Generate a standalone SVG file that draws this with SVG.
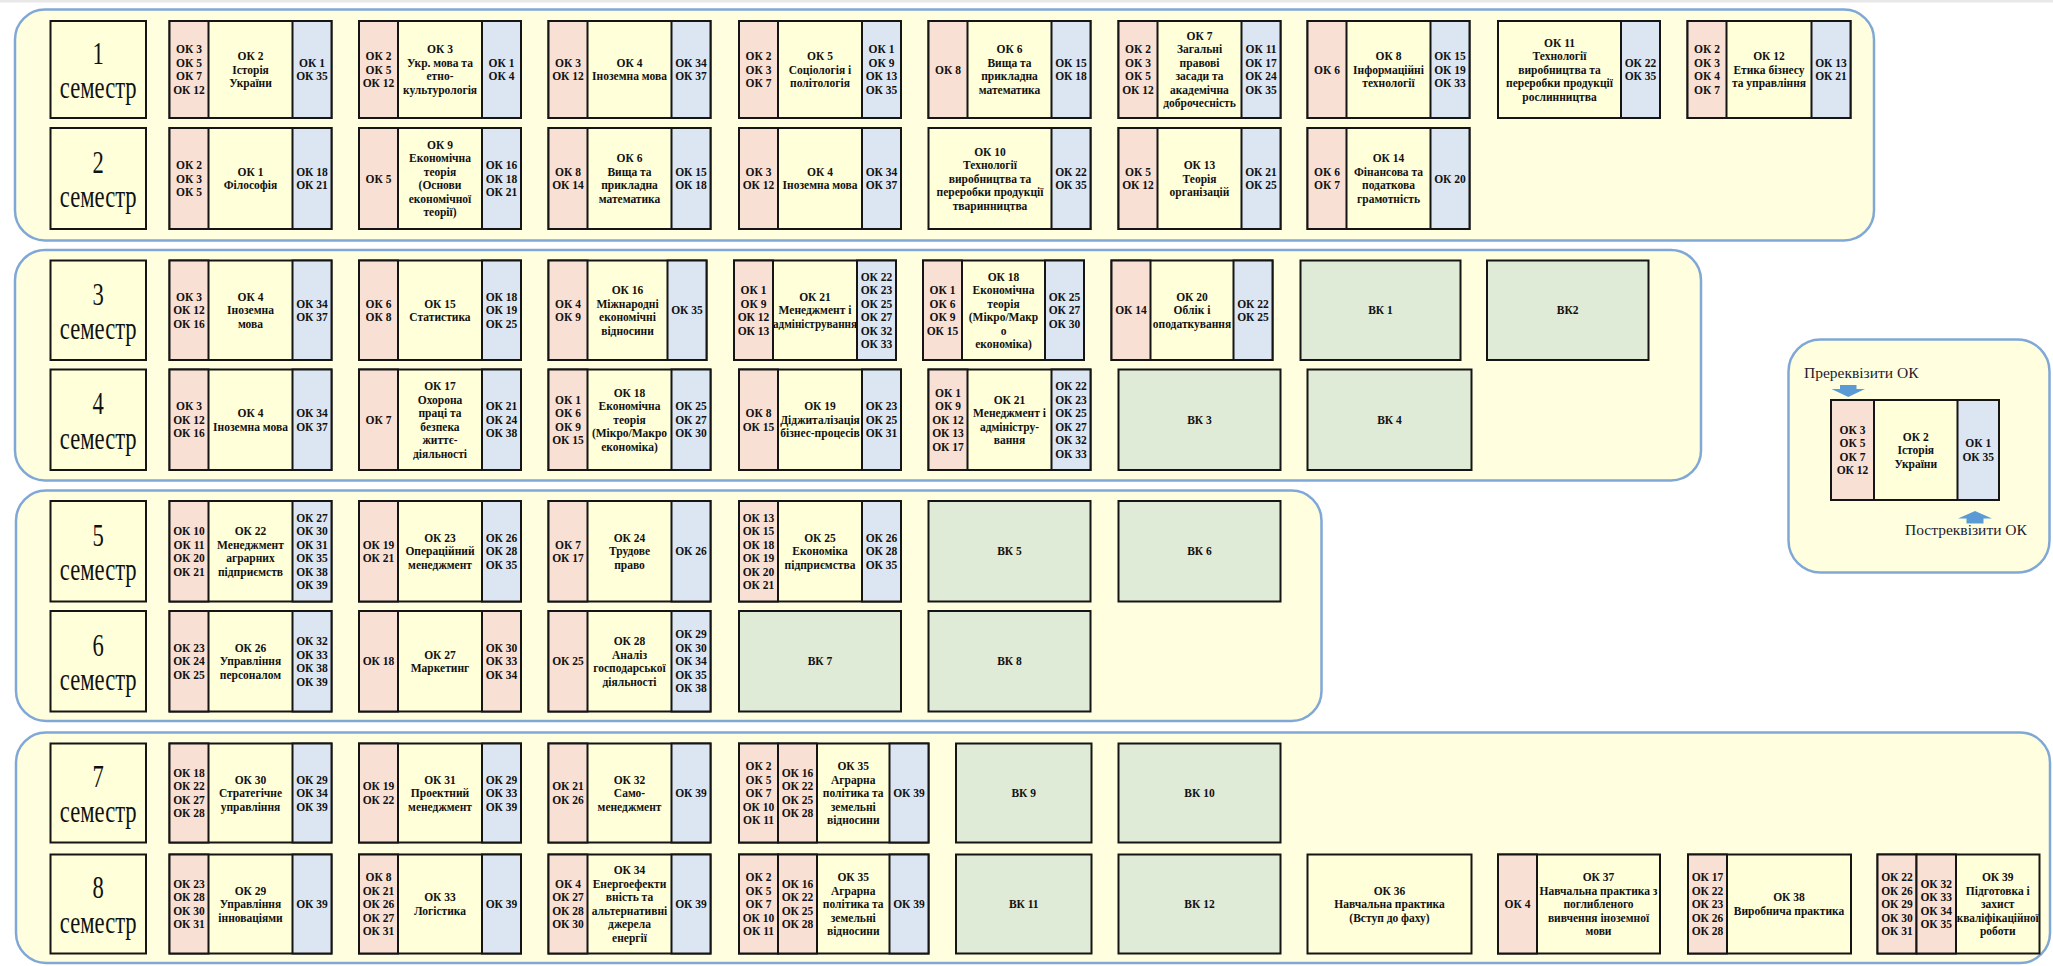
<svg xmlns="http://www.w3.org/2000/svg" width="2053" height="966" viewBox="0 0 2053 966">
<style>
.band{fill:#FFFFDF;stroke:#80A8D6;stroke-width:2.5}
.y{fill:#FFFFDA;stroke:#151515;stroke-width:2}
.r{fill:#F9E0D4;stroke:#151515;stroke-width:2}
.b{fill:#DCE6F2;stroke:#151515;stroke-width:2}
.g{fill:#E0EBD7;stroke:#151515;stroke-width:2}
.t{font-family:"Liberation Serif","Times New Roman",serif;font-weight:bold;font-size:11.5px;fill:#111;text-anchor:middle}
.sem{font-family:"Liberation Serif","Times New Roman",serif;font-size:31px;fill:#111;text-anchor:middle}
.lg{font-family:"Liberation Serif","Times New Roman",serif;font-size:15.5px;fill:#1b1b30}
.arr{fill:#5B9BD5}
</style>
<rect x="0" y="0" width="2053" height="966" fill="#ffffff"/>
<rect x="0" y="0" width="2053" height="2.5" fill="#e8e8e8"/>

<g id="bands">
<rect class="band" x="15" y="9.5" width="1859" height="231" rx="30"/>
<rect class="band" x="15" y="250" width="1686" height="230.5" rx="30"/>
<rect class="band" x="16" y="490.5" width="1305.5" height="230.5" rx="30"/>
<rect class="band" x="16" y="732.5" width="2034" height="230.5" rx="30"/>
</g>

<!-- semester labels -->
<g id="sem1"><rect class="y" x="50.5" y="21" width="95.5" height="97"/>
<text class="sem" transform="translate(98.25,0) scale(0.73,1)"><tspan x="0" y="64">1</tspan><tspan x="0" y="98.5">семестр</tspan></text></g>
<g id="sem2"><rect class="y" x="50.5" y="128" width="95.5" height="101"/>
<text class="sem" transform="translate(98.25,0) scale(0.73,1)"><tspan x="0" y="173">2</tspan><tspan x="0" y="207.5">семестр</tspan></text></g>
<g id="sem3"><rect class="y" x="50.5" y="260.5" width="95.5" height="99.5"/>
<text class="sem" transform="translate(98.25,0) scale(0.73,1)"><tspan x="0" y="304.75">3</tspan><tspan x="0" y="339.25">семестр</tspan></text></g>
<g id="sem4"><rect class="y" x="50.5" y="369.5" width="95.5" height="100.5"/>
<text class="sem" transform="translate(98.25,0) scale(0.73,1)"><tspan x="0" y="414.25">4</tspan><tspan x="0" y="448.75">семестр</tspan></text></g>
<g id="sem5"><rect class="y" x="50.5" y="501" width="95.5" height="100.5"/>
<text class="sem" transform="translate(98.25,0) scale(0.73,1)"><tspan x="0" y="545.75">5</tspan><tspan x="0" y="580.25">семестр</tspan></text></g>
<g id="sem6"><rect class="y" x="50.5" y="611" width="95.5" height="100.5"/>
<text class="sem" transform="translate(98.25,0) scale(0.73,1)"><tspan x="0" y="655.75">6</tspan><tspan x="0" y="690.25">семестр</tspan></text></g>
<g id="sem7"><rect class="y" x="50.5" y="743.5" width="95.5" height="99"/>
<text class="sem" transform="translate(98.25,0) scale(0.73,1)"><tspan x="0" y="787.5">7</tspan><tspan x="0" y="822">семестр</tspan></text></g>
<g id="sem8"><rect class="y" x="50.5" y="854.5" width="95.5" height="99"/>
<text class="sem" transform="translate(98.25,0) scale(0.73,1)"><tspan x="0" y="898.5">8</tspan><tspan x="0" y="933">семестр</tspan></text></g>

<!-- ===== Semester 1 ===== -->
<g id="s1-ok2"><rect class="y" x="169.5" y="21" width="162" height="97"/><rect class="r" x="169.5" y="21" width="39" height="97"/><rect class="b" x="292.5" y="21" width="39" height="97"/>
<text class="t" y="53.25"><tspan x="189">ОК 3</tspan><tspan x="189" dy="13.5">ОК 5</tspan><tspan x="189" dy="13.5">ОК 7</tspan><tspan x="189" dy="13.5">ОК 12</tspan></text>
<text class="t" y="60"><tspan x="250.5">ОК 2</tspan><tspan x="250.5" dy="13.5">Історія</tspan><tspan x="250.5" dy="13.5">України</tspan></text>
<text class="t" y="66.75"><tspan x="312">ОК 1</tspan><tspan x="312" dy="13.5">ОК 35</tspan></text></g>

<g id="s1-ok3"><rect class="y" x="359" y="21" width="162" height="97"/><rect class="r" x="359" y="21" width="39" height="97"/><rect class="b" x="482" y="21" width="39" height="97"/>
<text class="t" y="60"><tspan x="378.5">ОК 2</tspan><tspan x="378.5" dy="13.5">ОК 5</tspan><tspan x="378.5" dy="13.5">ОК 12</tspan></text>
<text class="t" y="53.25"><tspan x="440">ОК 3</tspan><tspan x="440" dy="13.5">Укр. мова та</tspan><tspan x="440" dy="13.5">етно-</tspan><tspan x="440" dy="13.5">культурологія</tspan></text>
<text class="t" y="66.75"><tspan x="501.5">ОК 1</tspan><tspan x="501.5" dy="13.5">ОК 4</tspan></text></g>

<g id="s1-ok4"><rect class="y" x="548.5" y="21" width="162" height="97"/><rect class="r" x="548.5" y="21" width="39" height="97"/><rect class="b" x="671.5" y="21" width="39" height="97"/>
<text class="t" y="66.75"><tspan x="568">ОК 3</tspan><tspan x="568" dy="13.5">ОК 12</tspan></text>
<text class="t" y="66.75"><tspan x="629.5">ОК 4</tspan><tspan x="629.5" dy="13.5">Іноземна мова</tspan></text>
<text class="t" y="66.75"><tspan x="691">ОК 34</tspan><tspan x="691" dy="13.5">ОК 37</tspan></text></g>

<g id="s1-ok5"><rect class="y" x="739" y="21" width="162" height="97"/><rect class="r" x="739" y="21" width="39" height="97"/><rect class="b" x="862" y="21" width="39" height="97"/>
<text class="t" y="60"><tspan x="758.5">ОК 2</tspan><tspan x="758.5" dy="13.5">ОК 3</tspan><tspan x="758.5" dy="13.5">ОК 7</tspan></text>
<text class="t" y="60"><tspan x="820">ОК 5</tspan><tspan x="820" dy="13.5">Соціологія і</tspan><tspan x="820" dy="13.5">політологія</tspan></text>
<text class="t" y="53.25"><tspan x="881.5">ОК 1</tspan><tspan x="881.5" dy="13.5">ОК 9</tspan><tspan x="881.5" dy="13.5">ОК 13</tspan><tspan x="881.5" dy="13.5">ОК 35</tspan></text></g>

<g id="s1-ok6"><rect class="y" x="928.5" y="21" width="162" height="97"/><rect class="r" x="928.5" y="21" width="39" height="97"/><rect class="b" x="1051.5" y="21" width="39" height="97"/>
<text class="t" y="73.5"><tspan x="948">ОК 8</tspan></text>
<text class="t" y="53.25"><tspan x="1009.5">ОК 6</tspan><tspan x="1009.5" dy="13.5">Вища та</tspan><tspan x="1009.5" dy="13.5">прикладна</tspan><tspan x="1009.5" dy="13.5">математика</tspan></text>
<text class="t" y="66.75"><tspan x="1071">ОК 15</tspan><tspan x="1071" dy="13.5">ОК 18</tspan></text></g>

<g id="s1-ok7"><rect class="y" x="1118.5" y="21" width="162" height="97"/><rect class="r" x="1118.5" y="21" width="39" height="97"/><rect class="b" x="1241.5" y="21" width="39" height="97"/>
<text class="t" y="53.25"><tspan x="1138">ОК 2</tspan><tspan x="1138" dy="13.5">ОК 3</tspan><tspan x="1138" dy="13.5">ОК 5</tspan><tspan x="1138" dy="13.5">ОК 12</tspan></text>
<text class="t" y="39.75"><tspan x="1199.5">ОК 7</tspan><tspan x="1199.5" dy="13.5">Загальні</tspan><tspan x="1199.5" dy="13.5">правові</tspan><tspan x="1199.5" dy="13.5">засади та</tspan><tspan x="1199.5" dy="13.5">академічна</tspan><tspan x="1199.5" dy="13.5">доброчесність</tspan></text>
<text class="t" y="53.25"><tspan x="1261">ОК 11</tspan><tspan x="1261" dy="13.5">ОК 17</tspan><tspan x="1261" dy="13.5">ОК 24</tspan><tspan x="1261" dy="13.5">ОК 35</tspan></text></g>

<g id="s1-ok8"><rect class="y" x="1307.5" y="21" width="162" height="97"/><rect class="r" x="1307.5" y="21" width="39" height="97"/><rect class="b" x="1430.5" y="21" width="39" height="97"/>
<text class="t" y="73.5"><tspan x="1327">ОК 6</tspan></text>
<text class="t" y="60"><tspan x="1388.5">ОК 8</tspan><tspan x="1388.5" dy="13.5">Інформаційні</tspan><tspan x="1388.5" dy="13.5">технології</tspan></text>
<text class="t" y="60"><tspan x="1450">ОК 15</tspan><tspan x="1450" dy="13.5">ОК 19</tspan><tspan x="1450" dy="13.5">ОК 33</tspan></text></g>

<g id="s1-ok11"><rect class="y" x="1498" y="21" width="162" height="97"/><rect class="b" x="1621" y="21" width="39" height="97"/>
<text class="t" y="46.5"><tspan x="1559.5">ОК 11</tspan><tspan x="1559.5" dy="13.5">Технології</tspan><tspan x="1559.5" dy="13.5">виробництва та</tspan><tspan x="1559.5" dy="13.5">переробки продукції</tspan><tspan x="1559.5" dy="13.5">рослинництва</tspan></text>
<text class="t" y="66.75"><tspan x="1640.5">ОК 22</tspan><tspan x="1640.5" dy="13.5">ОК 35</tspan></text></g>

<g id="s1-ok12"><rect class="y" x="1687.5" y="21" width="163" height="97"/><rect class="r" x="1687.5" y="21" width="39" height="97"/><rect class="b" x="1811.5" y="21" width="39" height="97"/>
<text class="t" y="53.25"><tspan x="1707">ОК 2</tspan><tspan x="1707" dy="13.5">ОК 3</tspan><tspan x="1707" dy="13.5">ОК 4</tspan><tspan x="1707" dy="13.5">ОК 7</tspan></text>
<text class="t" y="60"><tspan x="1769">ОК 12</tspan><tspan x="1769" dy="13.5">Етика бізнесу</tspan><tspan x="1769" dy="13.5">та управління</tspan></text>
<text class="t" y="66.75"><tspan x="1831">ОК 13</tspan><tspan x="1831" dy="13.5">ОК 21</tspan></text></g>

<!-- ===== Semester 2 ===== -->
<g id="s2-ok1"><rect class="y" x="169.5" y="128" width="162" height="101"/><rect class="r" x="169.5" y="128" width="39" height="101"/><rect class="b" x="292.5" y="128" width="39" height="101"/>
<text class="t" y="169"><tspan x="189">ОК 2</tspan><tspan x="189" dy="13.5">ОК 3</tspan><tspan x="189" dy="13.5">ОК 5</tspan></text>
<text class="t" y="175.75"><tspan x="250.5">ОК 1</tspan><tspan x="250.5" dy="13.5">Філософія</tspan></text>
<text class="t" y="175.75"><tspan x="312">ОК 18</tspan><tspan x="312" dy="13.5">ОК 21</tspan></text></g>

<g id="s2-ok9"><rect class="y" x="359" y="128" width="162" height="101"/><rect class="r" x="359" y="128" width="39" height="101"/><rect class="b" x="482" y="128" width="39" height="101"/>
<text class="t" y="182.5"><tspan x="378.5">ОК 5</tspan></text>
<text class="t" y="148.75"><tspan x="440">ОК 9</tspan><tspan x="440" dy="13.5">Економічна</tspan><tspan x="440" dy="13.5">теорія</tspan><tspan x="440" dy="13.5">(Основи</tspan><tspan x="440" dy="13.5">економічної</tspan><tspan x="440" dy="13.5">теорії)</tspan></text>
<text class="t" y="169"><tspan x="501.5">ОК 16</tspan><tspan x="501.5" dy="13.5">ОК 18</tspan><tspan x="501.5" dy="13.5">ОК 21</tspan></text></g>

<g id="s2-ok6"><rect class="y" x="548.5" y="128" width="162" height="101"/><rect class="r" x="548.5" y="128" width="39" height="101"/><rect class="b" x="671.5" y="128" width="39" height="101"/>
<text class="t" y="175.75"><tspan x="568">ОК 8</tspan><tspan x="568" dy="13.5">ОК 14</tspan></text>
<text class="t" y="162.25"><tspan x="629.5">ОК 6</tspan><tspan x="629.5" dy="13.5">Вища та</tspan><tspan x="629.5" dy="13.5">прикладна</tspan><tspan x="629.5" dy="13.5">математика</tspan></text>
<text class="t" y="175.75"><tspan x="691">ОК 15</tspan><tspan x="691" dy="13.5">ОК 18</tspan></text></g>

<g id="s2-ok4"><rect class="y" x="739" y="128" width="162" height="101"/><rect class="r" x="739" y="128" width="39" height="101"/><rect class="b" x="862" y="128" width="39" height="101"/>
<text class="t" y="175.75"><tspan x="758.5">ОК 3</tspan><tspan x="758.5" dy="13.5">ОК 12</tspan></text>
<text class="t" y="175.75"><tspan x="820">ОК 4</tspan><tspan x="820" dy="13.5">Іноземна мова</tspan></text>
<text class="t" y="175.75"><tspan x="881.5">ОК 34</tspan><tspan x="881.5" dy="13.5">ОК 37</tspan></text></g>

<g id="s2-ok10"><rect class="y" x="928.5" y="128" width="162" height="101"/><rect class="b" x="1051.5" y="128" width="39" height="101"/>
<text class="t" y="155.5"><tspan x="990">ОК 10</tspan><tspan x="990" dy="13.5">Технології</tspan><tspan x="990" dy="13.5">виробництва та</tspan><tspan x="990" dy="13.5">переробки продукції</tspan><tspan x="990" dy="13.5">тваринництва</tspan></text>
<text class="t" y="175.75"><tspan x="1071">ОК 22</tspan><tspan x="1071" dy="13.5">ОК 35</tspan></text></g>

<g id="s2-ok13"><rect class="y" x="1118.5" y="128" width="162" height="101"/><rect class="r" x="1118.5" y="128" width="39" height="101"/><rect class="b" x="1241.5" y="128" width="39" height="101"/>
<text class="t" y="175.75"><tspan x="1138">ОК 5</tspan><tspan x="1138" dy="13.5">ОК 12</tspan></text>
<text class="t" y="169"><tspan x="1199.5">ОК 13</tspan><tspan x="1199.5" dy="13.5">Теорія</tspan><tspan x="1199.5" dy="13.5">організацій</tspan></text>
<text class="t" y="175.75"><tspan x="1261">ОК 21</tspan><tspan x="1261" dy="13.5">ОК 25</tspan></text></g>

<g id="s2-ok14"><rect class="y" x="1307.5" y="128" width="162" height="101"/><rect class="r" x="1307.5" y="128" width="39" height="101"/><rect class="b" x="1430.5" y="128" width="39" height="101"/>
<text class="t" y="175.75"><tspan x="1327">ОК 6</tspan><tspan x="1327" dy="13.5">ОК 7</tspan></text>
<text class="t" y="162.25"><tspan x="1388.5">ОК 14</tspan><tspan x="1388.5" dy="13.5">Фінансова та</tspan><tspan x="1388.5" dy="13.5">податкова</tspan><tspan x="1388.5" dy="13.5">грамотність</tspan></text>
<text class="t" y="182.5"><tspan x="1450">ОК 20</tspan></text></g>

<!-- ===== Semester 3 ===== -->
<g id="s3-ok4"><rect class="y" x="169.5" y="260.5" width="162" height="99.5"/><rect class="r" x="169.5" y="260.5" width="39" height="99.5"/><rect class="b" x="292.5" y="260.5" width="39" height="99.5"/>
<text class="t" y="300.75"><tspan x="189">ОК 3</tspan><tspan x="189" dy="13.5">ОК 12</tspan><tspan x="189" dy="13.5">ОК 16</tspan></text>
<text class="t" y="300.75"><tspan x="250.5">ОК 4</tspan><tspan x="250.5" dy="13.5">Іноземна</tspan><tspan x="250.5" dy="13.5">мова</tspan></text>
<text class="t" y="307.5"><tspan x="312">ОК 34</tspan><tspan x="312" dy="13.5">ОК 37</tspan></text></g>

<g id="s3-ok15"><rect class="y" x="359" y="260.5" width="162" height="99.5"/><rect class="r" x="359" y="260.5" width="39" height="99.5"/><rect class="b" x="482" y="260.5" width="39" height="99.5"/>
<text class="t" y="307.5"><tspan x="378.5">ОК 6</tspan><tspan x="378.5" dy="13.5">ОК 8</tspan></text>
<text class="t" y="307.5"><tspan x="440">ОК 15</tspan><tspan x="440" dy="13.5">Статистика</tspan></text>
<text class="t" y="300.75"><tspan x="501.5">ОК 18</tspan><tspan x="501.5" dy="13.5">ОК 19</tspan><tspan x="501.5" dy="13.5">ОК 25</tspan></text></g>

<g id="s3-ok16"><rect class="y" x="548.5" y="260.5" width="158" height="99.5"/><rect class="r" x="548.5" y="260.5" width="39" height="99.5"/><rect class="b" x="667.5" y="260.5" width="39" height="99.5"/>
<text class="t" y="307.5"><tspan x="568">ОК 4</tspan><tspan x="568" dy="13.5">ОК 9</tspan></text>
<text class="t" y="294"><tspan x="627.5">ОК 16</tspan><tspan x="627.5" dy="13.5">Міжнародні</tspan><tspan x="627.5" dy="13.5">економічні</tspan><tspan x="627.5" dy="13.5">відносини</tspan></text>
<text class="t" y="314.25"><tspan x="687">ОК 35</tspan></text></g>

<g id="s3-ok21"><rect class="y" x="734" y="260.5" width="162" height="99.5"/><rect class="r" x="734" y="260.5" width="39" height="99.5"/><rect class="b" x="857" y="260.5" width="39" height="99.5"/>
<text class="t" y="294"><tspan x="753.5">ОК 1</tspan><tspan x="753.5" dy="13.5">ОК 9</tspan><tspan x="753.5" dy="13.5">ОК 12</tspan><tspan x="753.5" dy="13.5">ОК 13</tspan></text>
<text class="t" y="300.75"><tspan x="815">ОК 21</tspan><tspan x="815" dy="13.5">Менеджмент і</tspan><tspan x="815" dy="13.5" textLength="84" lengthAdjust="spacingAndGlyphs">адміністрування</tspan></text>
<text class="t" y="280.5"><tspan x="876.5">ОК 22</tspan><tspan x="876.5" dy="13.5">ОК 23</tspan><tspan x="876.5" dy="13.5">ОК 25</tspan><tspan x="876.5" dy="13.5">ОК 27</tspan><tspan x="876.5" dy="13.5">ОК 32</tspan><tspan x="876.5" dy="13.5">ОК 33</tspan></text></g>

<g id="s3-ok18"><rect class="y" x="923" y="260.5" width="161" height="99.5"/><rect class="r" x="923" y="260.5" width="39" height="99.5"/><rect class="b" x="1045" y="260.5" width="39" height="99.5"/>
<text class="t" y="294"><tspan x="942.5">ОК 1</tspan><tspan x="942.5" dy="13.5">ОК 6</tspan><tspan x="942.5" dy="13.5">ОК 9</tspan><tspan x="942.5" dy="13.5">ОК 15</tspan></text>
<text class="t" y="280.5"><tspan x="1003.5">ОК 18</tspan><tspan x="1003.5" dy="13.5">Економічна</tspan><tspan x="1003.5" dy="13.5">теорія</tspan><tspan x="1003.5" dy="13.5">(Мікро/Макр</tspan><tspan x="1003.5" dy="13.5">о</tspan><tspan x="1003.5" dy="13.5">економіка)</tspan></text>
<text class="t" y="300.75"><tspan x="1064.5">ОК 25</tspan><tspan x="1064.5" dy="13.5">ОК 27</tspan><tspan x="1064.5" dy="13.5">ОК 30</tspan></text></g>

<g id="s3-ok20"><rect class="y" x="1111.5" y="260.5" width="161" height="99.5"/><rect class="r" x="1111.5" y="260.5" width="39" height="99.5"/><rect class="b" x="1233.5" y="260.5" width="39" height="99.5"/>
<text class="t" y="314.25"><tspan x="1131">ОК 14</tspan></text>
<text class="t" y="300.75"><tspan x="1192">ОК 20</tspan><tspan x="1192" dy="13.5">Облік і</tspan><tspan x="1192" dy="13.5">оподаткування</tspan></text>
<text class="t" y="307.5"><tspan x="1253">ОК 22</tspan><tspan x="1253" dy="13.5">ОК 25</tspan></text></g>

<g id="s3-vk1"><rect class="g" x="1300.5" y="260.5" width="160" height="99.5"/><text class="t" x="1380.5" y="314.25">ВК 1</text></g>
<g id="s3-vk2"><rect class="g" x="1487" y="260.5" width="161.5" height="99.5"/><text class="t" x="1567.75" y="314.25">ВК2</text></g>

<!-- ===== Semester 4 ===== -->
<g id="s4-ok4"><rect class="y" x="169.5" y="369.5" width="162" height="100.5"/><rect class="r" x="169.5" y="369.5" width="39" height="100.5"/><rect class="b" x="292.5" y="369.5" width="39" height="100.5"/>
<text class="t" y="410.25"><tspan x="189">ОК 3</tspan><tspan x="189" dy="13.5">ОК 12</tspan><tspan x="189" dy="13.5">ОК 16</tspan></text>
<text class="t" y="417"><tspan x="250.5">ОК 4</tspan><tspan x="250.5" dy="13.5">Іноземна мова</tspan></text>
<text class="t" y="417"><tspan x="312">ОК 34</tspan><tspan x="312" dy="13.5">ОК 37</tspan></text></g>

<g id="s4-ok17"><rect class="y" x="359" y="369.5" width="162" height="100.5"/><rect class="r" x="359" y="369.5" width="39" height="100.5"/><rect class="b" x="482" y="369.5" width="39" height="100.5"/>
<text class="t" y="423.75"><tspan x="378.5">ОК 7</tspan></text>
<text class="t" y="390"><tspan x="440">ОК 17</tspan><tspan x="440" dy="13.5">Охорона</tspan><tspan x="440" dy="13.5">праці та</tspan><tspan x="440" dy="13.5">безпека</tspan><tspan x="440" dy="13.5">життє-</tspan><tspan x="440" dy="13.5">діяльності</tspan></text>
<text class="t" y="410.25"><tspan x="501.5">ОК 21</tspan><tspan x="501.5" dy="13.5">ОК 24</tspan><tspan x="501.5" dy="13.5">ОК 38</tspan></text></g>

<g id="s4-ok18"><rect class="y" x="548.5" y="369.5" width="162" height="100.5"/><rect class="r" x="548.5" y="369.5" width="39" height="100.5"/><rect class="b" x="671.5" y="369.5" width="39" height="100.5"/>
<text class="t" y="403.5"><tspan x="568">ОК 1</tspan><tspan x="568" dy="13.5">ОК 6</tspan><tspan x="568" dy="13.5">ОК 9</tspan><tspan x="568" dy="13.5">ОК 15</tspan></text>
<text class="t" y="396.75"><tspan x="629.5">ОК 18</tspan><tspan x="629.5" dy="13.5">Економічна</tspan><tspan x="629.5" dy="13.5">теорія</tspan><tspan x="629.5" dy="13.5">(Мікро/Макро</tspan><tspan x="629.5" dy="13.5">економіка)</tspan></text>
<text class="t" y="410.25"><tspan x="691">ОК 25</tspan><tspan x="691" dy="13.5">ОК 27</tspan><tspan x="691" dy="13.5">ОК 30</tspan></text></g>

<g id="s4-ok19"><rect class="y" x="739" y="369.5" width="162" height="100.5"/><rect class="r" x="739" y="369.5" width="39" height="100.5"/><rect class="b" x="862" y="369.5" width="39" height="100.5"/>
<text class="t" y="417"><tspan x="758.5">ОК 8</tspan><tspan x="758.5" dy="13.5">ОК 15</tspan></text>
<text class="t" y="410.25"><tspan x="820">ОК 19</tspan><tspan x="820" dy="13.5">Діджиталізація</tspan><tspan x="820" dy="13.5">бізнес-процесів</tspan></text>
<text class="t" y="410.25"><tspan x="881.5">ОК 23</tspan><tspan x="881.5" dy="13.5">ОК 25</tspan><tspan x="881.5" dy="13.5">ОК 31</tspan></text></g>

<g id="s4-ok21"><rect class="y" x="928.5" y="369.5" width="162" height="100.5"/><rect class="r" x="928.5" y="369.5" width="39" height="100.5"/><rect class="b" x="1051.5" y="369.5" width="39" height="100.5"/>
<text class="t" y="396.75"><tspan x="948">ОК 1</tspan><tspan x="948" dy="13.5">ОК 9</tspan><tspan x="948" dy="13.5">ОК 12</tspan><tspan x="948" dy="13.5">ОК 13</tspan><tspan x="948" dy="13.5">ОК 17</tspan></text>
<text class="t" y="403.5"><tspan x="1009.5">ОК 21</tspan><tspan x="1009.5" dy="13.5">Менеджмент і</tspan><tspan x="1009.5" dy="13.5">адміністру-</tspan><tspan x="1009.5" dy="13.5">вання</tspan></text>
<text class="t" y="390"><tspan x="1071">ОК 22</tspan><tspan x="1071" dy="13.5">ОК 23</tspan><tspan x="1071" dy="13.5">ОК 25</tspan><tspan x="1071" dy="13.5">ОК 27</tspan><tspan x="1071" dy="13.5">ОК 32</tspan><tspan x="1071" dy="13.5">ОК 33</tspan></text></g>

<g id="s4-vk3"><rect class="g" x="1118.5" y="369.5" width="162" height="100.5"/><text class="t" x="1199.5" y="423.75">ВК 3</text></g>
<g id="s4-vk4"><rect class="g" x="1307.5" y="369.5" width="164" height="100.5"/><text class="t" x="1389.5" y="423.75">ВК 4</text></g>

<!-- ===== Semester 5 ===== -->
<g id="s5-ok22"><rect class="y" x="169.5" y="501" width="162" height="100.5"/><rect class="r" x="169.5" y="501" width="39" height="100.5"/><rect class="b" x="292.5" y="501" width="39" height="100.5"/>
<text class="t" y="535"><tspan x="189">ОК 10</tspan><tspan x="189" dy="13.5">ОК 11</tspan><tspan x="189" dy="13.5">ОК 20</tspan><tspan x="189" dy="13.5">ОК 21</tspan></text>
<text class="t" y="535"><tspan x="250.5">ОК 22</tspan><tspan x="250.5" dy="13.5">Менеджмент</tspan><tspan x="250.5" dy="13.5">аграрних</tspan><tspan x="250.5" dy="13.5">підприємств</tspan></text>
<text class="t" y="521.5"><tspan x="312">ОК 27</tspan><tspan x="312" dy="13.5">ОК 30</tspan><tspan x="312" dy="13.5">ОК 31</tspan><tspan x="312" dy="13.5">ОК 35</tspan><tspan x="312" dy="13.5">ОК 38</tspan><tspan x="312" dy="13.5">ОК 39</tspan></text></g>

<g id="s5-ok23"><rect class="y" x="359" y="501" width="162" height="100.5"/><rect class="r" x="359" y="501" width="39" height="100.5"/><rect class="b" x="482" y="501" width="39" height="100.5"/>
<text class="t" y="548.5"><tspan x="378.5">ОК 19</tspan><tspan x="378.5" dy="13.5">ОК 21</tspan></text>
<text class="t" y="541.75"><tspan x="440">ОК 23</tspan><tspan x="440" dy="13.5">Операційний</tspan><tspan x="440" dy="13.5">менеджмент</tspan></text>
<text class="t" y="541.75"><tspan x="501.5">ОК 26</tspan><tspan x="501.5" dy="13.5">ОК 28</tspan><tspan x="501.5" dy="13.5">ОК 35</tspan></text></g>

<g id="s5-ok24"><rect class="y" x="548.5" y="501" width="162" height="100.5"/><rect class="r" x="548.5" y="501" width="39" height="100.5"/><rect class="b" x="671.5" y="501" width="39" height="100.5"/>
<text class="t" y="548.5"><tspan x="568">ОК 7</tspan><tspan x="568" dy="13.5">ОК 17</tspan></text>
<text class="t" y="541.75"><tspan x="629.5">ОК 24</tspan><tspan x="629.5" dy="13.5">Трудове</tspan><tspan x="629.5" dy="13.5">право</tspan></text>
<text class="t" y="555.25"><tspan x="691">ОК 26</tspan></text></g>

<g id="s5-ok25"><rect class="y" x="739" y="501" width="162" height="100.5"/><rect class="r" x="739" y="501" width="39" height="100.5"/><rect class="b" x="862" y="501" width="39" height="100.5"/>
<text class="t" y="521.5"><tspan x="758.5">ОК 13</tspan><tspan x="758.5" dy="13.5">ОК 15</tspan><tspan x="758.5" dy="13.5">ОК 18</tspan><tspan x="758.5" dy="13.5">ОК 19</tspan><tspan x="758.5" dy="13.5">ОК 20</tspan><tspan x="758.5" dy="13.5">ОК 21</tspan></text>
<text class="t" y="541.75"><tspan x="820">ОК 25</tspan><tspan x="820" dy="13.5">Економіка</tspan><tspan x="820" dy="13.5">підприємства</tspan></text>
<text class="t" y="541.75"><tspan x="881.5">ОК 26</tspan><tspan x="881.5" dy="13.5">ОК 28</tspan><tspan x="881.5" dy="13.5">ОК 35</tspan></text></g>

<g id="s5-vk5"><rect class="g" x="928.5" y="501" width="162" height="100.5"/><text class="t" x="1009.5" y="555.25">ВК 5</text></g>
<g id="s5-vk6"><rect class="g" x="1118.5" y="501" width="162" height="100.5"/><text class="t" x="1199.5" y="555.25">ВК 6</text></g>

<!-- ===== Semester 6 ===== -->
<g id="s6-ok26"><rect class="y" x="169.5" y="611" width="162" height="100.5"/><rect class="r" x="169.5" y="611" width="39" height="100.5"/><rect class="b" x="292.5" y="611" width="39" height="100.5"/>
<text class="t" y="651.75"><tspan x="189">ОК 23</tspan><tspan x="189" dy="13.5">ОК 24</tspan><tspan x="189" dy="13.5">ОК 25</tspan></text>
<text class="t" y="651.75"><tspan x="250.5">ОК 26</tspan><tspan x="250.5" dy="13.5">Управління</tspan><tspan x="250.5" dy="13.5">персоналом</tspan></text>
<text class="t" y="645"><tspan x="312">ОК 32</tspan><tspan x="312" dy="13.5">ОК 33</tspan><tspan x="312" dy="13.5">ОК 38</tspan><tspan x="312" dy="13.5">ОК 39</tspan></text></g>

<g id="s6-ok27"><rect class="y" x="359" y="611" width="162" height="100.5"/><rect class="r" x="359" y="611" width="39" height="100.5"/><rect class="r" x="482" y="611" width="39" height="100.5"/>
<text class="t" y="665.25"><tspan x="378.5">ОК 18</tspan></text>
<text class="t" y="658.5"><tspan x="440">ОК 27</tspan><tspan x="440" dy="13.5">Маркетинг</tspan></text>
<text class="t" y="651.75"><tspan x="501.5">ОК 30</tspan><tspan x="501.5" dy="13.5">ОК 33</tspan><tspan x="501.5" dy="13.5">ОК 34</tspan></text></g>

<g id="s6-ok28"><rect class="y" x="548.5" y="611" width="162" height="100.5"/><rect class="r" x="548.5" y="611" width="39" height="100.5"/><rect class="b" x="671.5" y="611" width="39" height="100.5"/>
<text class="t" y="665.25"><tspan x="568">ОК 25</tspan></text>
<text class="t" y="645"><tspan x="629.5">ОК 28</tspan><tspan x="629.5" dy="13.5">Аналіз</tspan><tspan x="629.5" dy="13.5">господарської</tspan><tspan x="629.5" dy="13.5">діяльності</tspan></text>
<text class="t" y="638.25"><tspan x="691">ОК 29</tspan><tspan x="691" dy="13.5">ОК 30</tspan><tspan x="691" dy="13.5">ОК 34</tspan><tspan x="691" dy="13.5">ОК 35</tspan><tspan x="691" dy="13.5">ОК 38</tspan></text></g>

<g id="s6-vk7"><rect class="g" x="739" y="611" width="162" height="100.5"/><text class="t" x="820" y="665.25">ВК 7</text></g>
<g id="s6-vk8"><rect class="g" x="928.5" y="611" width="162" height="100.5"/><text class="t" x="1009.5" y="665.25">ВК 8</text></g>

<!-- ===== Semester 7 ===== -->
<g id="s7-ok30"><rect class="y" x="169.5" y="743.5" width="162" height="99"/><rect class="r" x="169.5" y="743.5" width="39" height="99"/><rect class="b" x="292.5" y="743.5" width="39" height="99"/>
<text class="t" y="776.75"><tspan x="189">ОК 18</tspan><tspan x="189" dy="13.5">ОК 22</tspan><tspan x="189" dy="13.5">ОК 27</tspan><tspan x="189" dy="13.5">ОК 28</tspan></text>
<text class="t" y="783.5"><tspan x="250.5">ОК 30</tspan><tspan x="250.5" dy="13.5">Стратегічне</tspan><tspan x="250.5" dy="13.5">управління</tspan></text>
<text class="t" y="783.5"><tspan x="312">ОК 29</tspan><tspan x="312" dy="13.5">ОК 34</tspan><tspan x="312" dy="13.5">ОК 39</tspan></text></g>

<g id="s7-ok31"><rect class="y" x="359" y="743.5" width="162" height="99"/><rect class="r" x="359" y="743.5" width="39" height="99"/><rect class="b" x="482" y="743.5" width="39" height="99"/>
<text class="t" y="790.25"><tspan x="378.5">ОК 19</tspan><tspan x="378.5" dy="13.5">ОК 22</tspan></text>
<text class="t" y="783.5"><tspan x="440">ОК 31</tspan><tspan x="440" dy="13.5">Проектний</tspan><tspan x="440" dy="13.5">менеджмент</tspan></text>
<text class="t" y="783.5"><tspan x="501.5">ОК 29</tspan><tspan x="501.5" dy="13.5">ОК 33</tspan><tspan x="501.5" dy="13.5">ОК 39</tspan></text></g>

<g id="s7-ok32"><rect class="y" x="548.5" y="743.5" width="162" height="99"/><rect class="r" x="548.5" y="743.5" width="39" height="99"/><rect class="b" x="671.5" y="743.5" width="39" height="99"/>
<text class="t" y="790.25"><tspan x="568">ОК 21</tspan><tspan x="568" dy="13.5">ОК 26</tspan></text>
<text class="t" y="783.5"><tspan x="629.5">ОК 32</tspan><tspan x="629.5" dy="13.5">Само-</tspan><tspan x="629.5" dy="13.5">менеджмент</tspan></text>
<text class="t" y="797"><tspan x="691">ОК 39</tspan></text></g>

<g id="s7-ok35"><rect class="y" x="739" y="743.5" width="189.5" height="99"/><rect class="r" x="739" y="743.5" width="39" height="99"/><rect class="r" x="778" y="743.5" width="39" height="99"/><rect class="b" x="889.5" y="743.5" width="39" height="99"/>
<text class="t" y="770"><tspan x="758.5">ОК 2</tspan><tspan x="758.5" dy="13.5">ОК 5</tspan><tspan x="758.5" dy="13.5">ОК 7</tspan><tspan x="758.5" dy="13.5">ОК 10</tspan><tspan x="758.5" dy="13.5">ОК 11</tspan></text>
<text class="t" y="776.75"><tspan x="797.5">ОК 16</tspan><tspan x="797.5" dy="13.5">ОК 22</tspan><tspan x="797.5" dy="13.5">ОК 25</tspan><tspan x="797.5" dy="13.5">ОК 28</tspan></text>
<text class="t" y="770"><tspan x="853.25">ОК 35</tspan><tspan x="853.25" dy="13.5">Аграрна</tspan><tspan x="853.25" dy="13.5">політика та</tspan><tspan x="853.25" dy="13.5">земельні</tspan><tspan x="853.25" dy="13.5">відносини</tspan></text>
<text class="t" y="797"><tspan x="909">ОК 39</tspan></text></g>

<g id="s7-vk9"><rect class="g" x="956" y="743.5" width="135.5" height="99"/><text class="t" x="1023.75" y="797">ВК 9</text></g>
<g id="s7-vk10"><rect class="g" x="1118.5" y="743.5" width="162" height="99"/><text class="t" x="1199.5" y="797">ВК 10</text></g>

<!-- ===== Semester 8 ===== -->
<g id="s8-ok29"><rect class="y" x="169.5" y="854.5" width="162" height="99"/><rect class="r" x="169.5" y="854.5" width="39" height="99"/><rect class="b" x="292.5" y="854.5" width="39" height="99"/>
<text class="t" y="887.75"><tspan x="189">ОК 23</tspan><tspan x="189" dy="13.5">ОК 28</tspan><tspan x="189" dy="13.5">ОК 30</tspan><tspan x="189" dy="13.5">ОК 31</tspan></text>
<text class="t" y="894.5"><tspan x="250.5">ОК 29</tspan><tspan x="250.5" dy="13.5">Управління</tspan><tspan x="250.5" dy="13.5">інноваціями</tspan></text>
<text class="t" y="908"><tspan x="312">ОК 39</tspan></text></g>

<g id="s8-ok33"><rect class="y" x="359" y="854.5" width="162" height="99"/><rect class="r" x="359" y="854.5" width="39" height="99"/><rect class="b" x="482" y="854.5" width="39" height="99"/>
<text class="t" y="881"><tspan x="378.5">ОК 8</tspan><tspan x="378.5" dy="13.5">ОК 21</tspan><tspan x="378.5" dy="13.5">ОК 26</tspan><tspan x="378.5" dy="13.5">ОК 27</tspan><tspan x="378.5" dy="13.5">ОК 31</tspan></text>
<text class="t" y="901.25"><tspan x="440">ОК 33</tspan><tspan x="440" dy="13.5">Логістика</tspan></text>
<text class="t" y="908"><tspan x="501.5">ОК 39</tspan></text></g>

<g id="s8-ok34"><rect class="y" x="548.5" y="854.5" width="162" height="99"/><rect class="r" x="548.5" y="854.5" width="39" height="99"/><rect class="b" x="671.5" y="854.5" width="39" height="99"/>
<text class="t" y="887.75"><tspan x="568">ОК 4</tspan><tspan x="568" dy="13.5">ОК 27</tspan><tspan x="568" dy="13.5">ОК 28</tspan><tspan x="568" dy="13.5">ОК 30</tspan></text>
<text class="t" y="874.25"><tspan x="629.5">ОК 34</tspan><tspan x="629.5" dy="13.5">Енергоефекти</tspan><tspan x="629.5" dy="13.5">вність та</tspan><tspan x="629.5" dy="13.5">альтернативні</tspan><tspan x="629.5" dy="13.5">джерела</tspan><tspan x="629.5" dy="13.5">енергії</tspan></text>
<text class="t" y="908"><tspan x="691">ОК 39</tspan></text></g>

<g id="s8-ok35"><rect class="y" x="739" y="854.5" width="189.5" height="99"/><rect class="r" x="739" y="854.5" width="39" height="99"/><rect class="r" x="778" y="854.5" width="39" height="99"/><rect class="b" x="889.5" y="854.5" width="39" height="99"/>
<text class="t" y="881"><tspan x="758.5">ОК 2</tspan><tspan x="758.5" dy="13.5">ОК 5</tspan><tspan x="758.5" dy="13.5">ОК 7</tspan><tspan x="758.5" dy="13.5">ОК 10</tspan><tspan x="758.5" dy="13.5">ОК 11</tspan></text>
<text class="t" y="887.75"><tspan x="797.5">ОК 16</tspan><tspan x="797.5" dy="13.5">ОК 22</tspan><tspan x="797.5" dy="13.5">ОК 25</tspan><tspan x="797.5" dy="13.5">ОК 28</tspan></text>
<text class="t" y="881"><tspan x="853.25">ОК 35</tspan><tspan x="853.25" dy="13.5">Аграрна</tspan><tspan x="853.25" dy="13.5">політика та</tspan><tspan x="853.25" dy="13.5">земельні</tspan><tspan x="853.25" dy="13.5">відносини</tspan></text>
<text class="t" y="908"><tspan x="909">ОК 39</tspan></text></g>

<g id="s8-vk11"><rect class="g" x="956" y="854.5" width="135.5" height="99"/><text class="t" x="1023.75" y="908">ВК 11</text></g>
<g id="s8-vk12"><rect class="g" x="1118.5" y="854.5" width="162" height="99"/><text class="t" x="1199.5" y="908">ВК 12</text></g>

<g id="s8-ok36"><rect class="y" x="1307.5" y="854.5" width="164" height="99"/>
<text class="t" y="894.5"><tspan x="1389.5">ОК 36</tspan><tspan x="1389.5" dy="13.5">Навчальна практика</tspan><tspan x="1389.5" dy="13.5">(Вступ до фаху)</tspan></text></g>

<g id="s8-ok37"><rect class="y" x="1498" y="854.5" width="162" height="99"/><rect class="r" x="1498" y="854.5" width="39" height="99"/>
<text class="t" y="908"><tspan x="1517.5">ОК 4</tspan></text>
<text class="t" y="881"><tspan x="1598.5">ОК 37</tspan><tspan x="1598.5" dy="13.5">Навчальна практика з</tspan><tspan x="1598.5" dy="13.5">поглибленого</tspan><tspan x="1598.5" dy="13.5">вивчення іноземної</tspan><tspan x="1598.5" dy="13.5">мови</tspan></text></g>

<g id="s8-ok38"><rect class="y" x="1688" y="854.5" width="163" height="99"/><rect class="r" x="1688" y="854.5" width="39" height="99"/>
<text class="t" y="881"><tspan x="1707.5">ОК 17</tspan><tspan x="1707.5" dy="13.5">ОК 22</tspan><tspan x="1707.5" dy="13.5">ОК 23</tspan><tspan x="1707.5" dy="13.5">ОК 26</tspan><tspan x="1707.5" dy="13.5">ОК 28</tspan></text>
<text class="t" y="901.25"><tspan x="1789">ОК 38</tspan><tspan x="1789" dy="13.5">Виробнича практика</tspan></text></g>

<g id="s8-ok39"><rect class="y" x="1877.5" y="854.5" width="162" height="99"/><rect class="r" x="1877.5" y="854.5" width="39" height="99"/><rect class="r" x="1916.5" y="854.5" width="39.5" height="99"/>
<text class="t" y="881"><tspan x="1897">ОК 22</tspan><tspan x="1897" dy="13.5">ОК 26</tspan><tspan x="1897" dy="13.5">ОК 29</tspan><tspan x="1897" dy="13.5">ОК 30</tspan><tspan x="1897" dy="13.5">ОК 31</tspan></text>
<text class="t" y="887.75"><tspan x="1936.25">ОК 32</tspan><tspan x="1936.25" dy="13.5">ОК 33</tspan><tspan x="1936.25" dy="13.5">ОК 34</tspan><tspan x="1936.25" dy="13.5">ОК 35</tspan></text>
<text class="t" y="881"><tspan x="1997.75">ОК 39</tspan><tspan x="1997.75" dy="13.5">Підготовка і</tspan><tspan x="1997.75" dy="13.5">захист</tspan><tspan x="1997.75" dy="13.5" textLength="82" lengthAdjust="spacingAndGlyphs">кваліфікаційної</tspan><tspan x="1997.75" dy="13.5">роботи</tspan></text></g>

<!-- ===== Legend ===== -->
<g id="legend">
<rect class="band" x="1788.5" y="339.5" width="261" height="233" rx="32"/>
<text class="lg" x="1804" y="378">Пререквізити ОК</text>
<polygon class="arr" points="1840,385 1856.5,385 1856.5,389 1865,389 1848.25,397 1831.5,389 1840,389"/>
<g id="legend-node"><rect class="y" x="1831" y="400" width="168" height="100"/><rect class="r" x="1831" y="400" width="43" height="100"/><rect class="b" x="1957.5" y="400" width="41.5" height="100"/>
<text class="t" y="433.75"><tspan x="1852.5">ОК 3</tspan><tspan x="1852.5" dy="13.5">ОК 5</tspan><tspan x="1852.5" dy="13.5">ОК 7</tspan><tspan x="1852.5" dy="13.5">ОК 12</tspan></text>
<text class="t" y="440.5"><tspan x="1915.75">ОК 2</tspan><tspan x="1915.75" dy="13.5">Історія</tspan><tspan x="1915.75" dy="13.5">України</tspan></text>
<text class="t" y="447.25"><tspan x="1978.25">ОК 1</tspan><tspan x="1978.25" dy="13.5">ОК 35</tspan></text></g>
<polygon class="arr" points="1975,511 1992,518.5 1983.5,518.5 1983.5,523.5 1966.5,523.5 1966.5,518.5 1958,518.5"/>
<text class="lg" x="1905" y="535">Постреквізити ОК</text>
</g>
</svg>
